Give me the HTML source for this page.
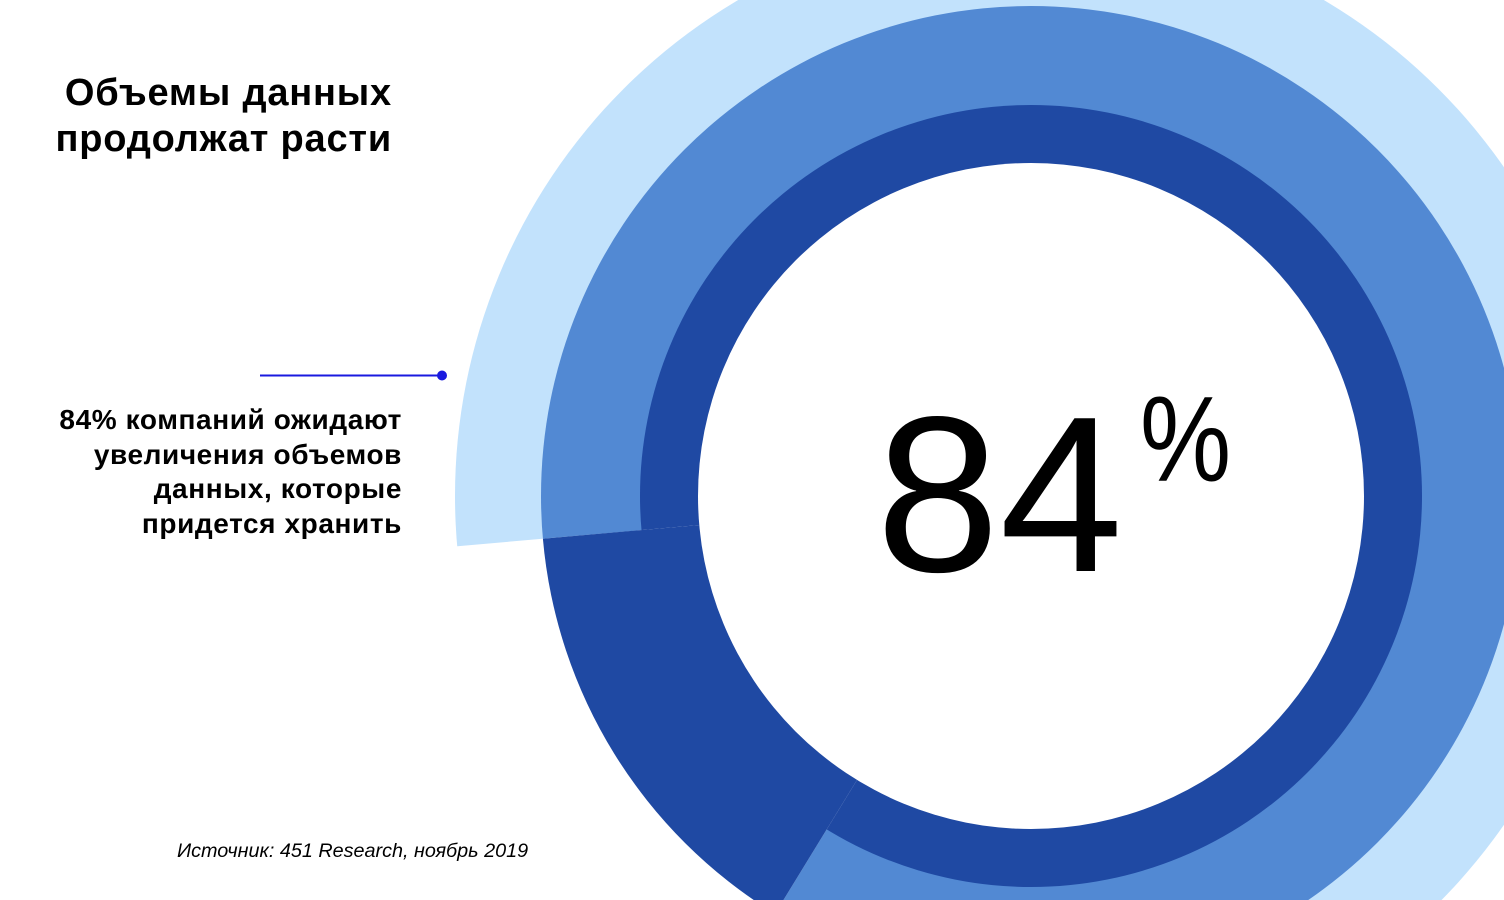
<!DOCTYPE html>
<html><head><meta charset="utf-8"><style>
html,body{margin:0;padding:0;background:#fff;overflow:hidden;}
body{width:1504px;height:900px;position:relative;overflow:hidden;font-family:"Liberation Sans",sans-serif;}
svg{position:absolute;left:0;top:0;display:block;}
.t{position:absolute;color:#000;font-weight:bold;text-align:right;white-space:nowrap;}
</style></head><body>
<svg width="1504" height="900" viewBox="0 0 1504 900">
<circle cx="1031" cy="496" r="576" fill="#c2e2fc"/>
<circle cx="1031" cy="496" r="490" fill="#5289d3"/>
<circle cx="1031" cy="496" r="391" fill="#1f49a3"/>
<path d="M1031 496 L728 990.5 A580 580 0 0 1 453.2 546.6 Z" fill="#fff"/>
<path d="M1031 496 L775 913.8 A490 490 0 0 1 542.9 538.7 Z" fill="#1f49a3"/>
<circle cx="1031" cy="496" r="333" fill="#fff"/>
<line x1="260" y1="375.5" x2="442" y2="375.5" stroke="#1a1adf" stroke-width="2"/>
<circle cx="442" cy="375.5" r="5" fill="#1a1adf"/>
<text x="876" y="571" font-family="Liberation Sans, sans-serif" font-size="222" fill="#000">84</text>
<text transform="translate(1140 481) scale(0.84 1)" x="0" y="0" font-family="Liberation Sans, sans-serif" font-size="122" fill="#000">%</text>
</svg>
<div class="t" style="right:1112px;top:70px;font-size:38px;letter-spacing:0.8px;line-height:46px;">Объемы данных<br>продолжат расти</div>
<div class="t" style="right:1102px;top:403px;font-size:28px;letter-spacing:0.6px;line-height:34.7px;">84% компаний ожидают<br>увеличения объемов<br>данных, которые<br>придется хранить</div>
<div style="position:absolute;left:177px;top:840px;font-size:19.8px;font-style:italic;color:#000;white-space:nowrap;">Источник: 451 Research, ноябрь 2019</div>
</body></html>
